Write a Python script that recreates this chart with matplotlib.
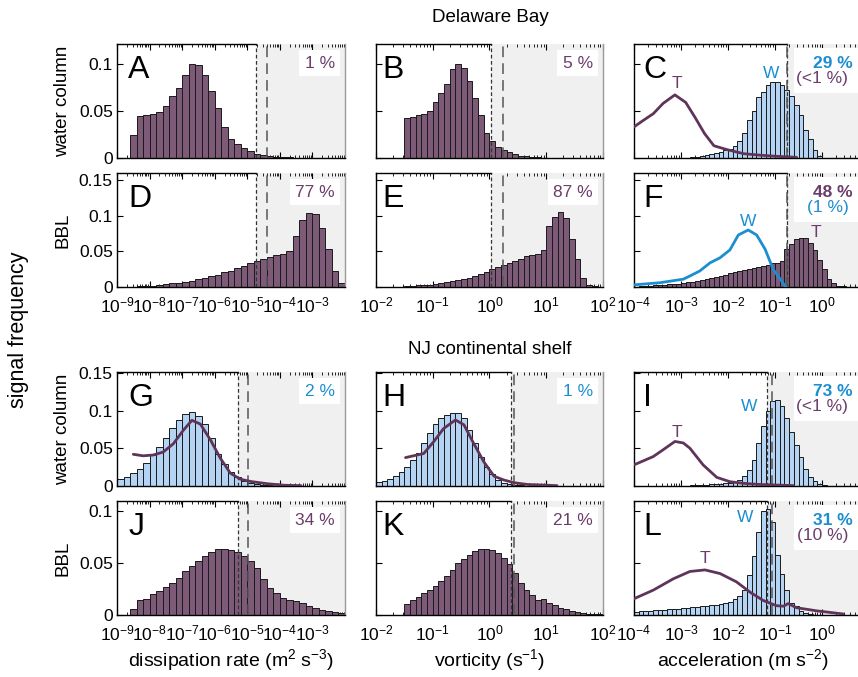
import numpy as np
import matplotlib
matplotlib.use('Agg')
import matplotlib.pyplot as plt
from matplotlib.patches import Rectangle
from matplotlib.ticker import FixedLocator, FuncFormatter, NullFormatter, LogLocator

plt.rcParams['font.family'] = ['Liberation Sans', 'DejaVu Sans']
plt.rcParams['mathtext.fontset'] = 'custom'
plt.rcParams['mathtext.rm'] = 'Liberation Sans'
plt.rcParams['mathtext.it'] = 'Liberation Sans:italic'
plt.rcParams['mathtext.bf'] = 'Liberation Sans:bold'

# ---------------- data (bin heights, log10 bins) ----------------
# column 1: dissipation, 35 bins of 0.2 decade from 1e-9
A_eps = [0, 0, 0.024, 0.045, 0.046, 0.047, 0.049, 0.055, 0.066, 0.074, 0.088, 0.100, 0.099, 0.088,
         0.071, 0.053, 0.033, 0.020, 0.015, 0.011, 0.0075, 0.0046, 0.003, 0.002, 0.0014, 0.001,
         0.0006, 0.0005, 0.0004, 0.0003, 0.0002, 0, 0, 0, 0]
D_eps = [0.0002, 0.0004, 0.0007, 0.001, 0.0015, 0.002, 0.003, 0.004, 0.005, 0.006, 0.0075, 0.009,
         0.011, 0.013, 0.015, 0.017, 0.021, 0.023, 0.026, 0.029, 0.033, 0.037, 0.040, 0.042, 0.045,
         0.046, 0.050, 0.071, 0.094, 0.104, 0.103, 0.083, 0.053, 0.023, 0.006]
G_eps = [0.0088, 0.012, 0.017, 0.0225, 0.031, 0.041, 0.052, 0.064, 0.077, 0.088, 0.095, 0.098, 0.093,
         0.082, 0.063, 0.043, 0.029, 0.019, 0.0115, 0.0066, 0.0035, 0.002, 0.0012, 0.0008, 0.0005,
         0.0003, 0.0002, 0.0001, 0, 0, 0, 0, 0, 0, 0]
G_T_x = [-8.5, -8.2, -7.89, -7.58, -7.27, -6.96, -6.7, -6.44, -6.13, -5.83, -5.52, -5.21, -4.9, -4.38, -3.87, -3.35]
G_T_y = [0.042, 0.040, 0.041, 0.045, 0.056, 0.074, 0.087, 0.082, 0.061, 0.037, 0.017, 0.009, 0.006, 0.003, 0.001, 0.0005]
J_eps = [0, 0, 0.006, 0.014, 0.0157, 0.020, 0.023, 0.027, 0.031, 0.036, 0.042, 0.047, 0.052, 0.0566,
         0.061, 0.064, 0.064, 0.0625, 0.061, 0.057, 0.052, 0.045, 0.035, 0.026, 0.021, 0.0167, 0.014,
         0.0134, 0.0114, 0.0088, 0.0065, 0.0052, 0.0043, 0.003, 0.002]

# column 2: vorticity, 40 bins of 0.1 decade from 1e-2
B_vort = [0, 0, 0, 0, 0, 0.042, 0.044, 0.046, 0.047, 0.050, 0.059, 0.069, 0.079, 0.094, 0.100, 0.096,
          0.082, 0.064, 0.046, 0.027, 0.018, 0.012, 0.009, 0.006, 0.004, 0.0025, 0.0018, 0.0014,
          0.001, 0.0005, 0.0004, 0.0002, 0, 0, 0, 0, 0, 0, 0, 0]
E_vort = [0, 0, 0, 0, 0.0005, 0.0014, 0.0019, 0.0023, 0.0028, 0.0033, 0.0042, 0.005, 0.0066, 0.008,
          0.0094, 0.011, 0.013, 0.0155, 0.018, 0.021, 0.025, 0.028, 0.031, 0.034, 0.037, 0.040, 0.043,
          0.045, 0.047, 0.052, 0.086, 0.098, 0.105, 0.097, 0.068, 0.040, 0.013, 0.003, 0.001, 0]
H_vort = [0.0057, 0.007, 0.0088, 0.013, 0.019, 0.0256, 0.0345, 0.044, 0.0566, 0.070, 0.082, 0.090,
          0.094, 0.097, 0.097, 0.090, 0.074, 0.057, 0.038, 0.0256, 0.0155, 0.008, 0.0044, 0.0027,
          0.0018, 0.001, 0.0006, 0.0004, 0, 0, 0, 0, 0, 0, 0, 0, 0, 0, 0, 0]
H_T_x = [-1.48, -1.34, -1.16, -0.98, -0.81, -0.6, -0.45, -0.28, -0.1, 0.08, 0.25, 0.43, 0.67, 1.19]
H_T_y = [0.0376, 0.040, 0.043, 0.059, 0.076, 0.0875, 0.081, 0.0566, 0.032, 0.013, 0.008, 0.0044, 0.002, 0.0005]
K_vort = [0, 0, 0, 0, 0, 0.011, 0.014, 0.0173, 0.021, 0.024, 0.028, 0.033, 0.038, 0.0435, 0.050, 0.054,
          0.058, 0.0615, 0.064, 0.064, 0.0625, 0.060, 0.055, 0.049, 0.041, 0.031, 0.024, 0.019,
          0.0147, 0.0157, 0.0114, 0.0092, 0.0069, 0.0059, 0.0043, 0.003, 0.002, 0.001, 0.001, 0.001]

# column 3: acceleration, 50 bins of 0.1 decade from 1e-4
C_W = [0] * 11 + [0.0005, 0.001, 0.0015, 0.002, 0.003, 0.004, 0.005, 0.006, 0.008, 0.010, 0.013,
                  0.018, 0.027, 0.040, 0.050, 0.065, 0.070, 0.077, 0.081, 0.081, 0.078, 0.072, 0.066,
                  0.056, 0.046, 0.030, 0.020, 0.008, 0.002] + [0] * 10
C_T_x = [-4.0, -3.8, -3.59, -3.38, -3.13, -2.9, -2.7, -2.5, -2.3, -2.03, -1.67, -1.32, -0.97, -0.54]
C_T_y = [0.033, 0.040, 0.047, 0.058, 0.067, 0.059, 0.043, 0.026, 0.013, 0.009, 0.0046, 0.003, 0.0018, 0.0007]
F_T = [0.0005, 0.001, 0.0014, 0.0019, 0.0023, 0.0028, 0.0033, 0.0038, 0.0042, 0.0047, 0.0056, 0.0066,
       0.0075, 0.0084, 0.0098, 0.011, 0.0127, 0.014, 0.0155, 0.017, 0.019, 0.021, 0.022, 0.024, 0.025,
       0.027, 0.028, 0.030, 0.031, 0.033, 0.034, 0.036, 0.053, 0.061, 0.068, 0.069, 0.069, 0.062,
       0.052, 0.038, 0.025, 0.011, 0.005, 0.002, 0.001, 0, 0, 0, 0, 0]
F_W_x = [-4.0, -3.45, -2.95, -2.81, -2.6, -2.38, -2.17, -1.96, -1.78, -1.57, -1.39, -1.21, -1.04, -0.89, -0.77]
F_W_y = [0.003, 0.006, 0.011, 0.0155, 0.0225, 0.034, 0.041, 0.052, 0.073, 0.080, 0.073, 0.053, 0.025, 0.011, 0.0]
I_W = [0] * 11 + [0.0005, 0.0008, 0.001, 0.0013, 0.0016, 0.002, 0.0025, 0.003, 0.0035, 0.004, 0.005,
                  0.008, 0.013, 0.021, 0.035, 0.057, 0.079, 0.100, 0.112, 0.114, 0.106, 0.090, 0.071,
                  0.054, 0.038, 0.023, 0.012, 0.007, 0.0027, 0.001] + [0] * 9
I_T_x = [-4.0, -3.59, -3.38, -3.13, -2.95, -2.81, -2.53, -2.24, -1.96, -1.67, -1.32, -0.61]
I_T_y = [0.028, 0.039, 0.048, 0.059, 0.057, 0.050, 0.028, 0.0115, 0.0057, 0.0035, 0.002, 0.0005]
L_W = [0.0026, 0.0036, 0.004, 0.004, 0.0045, 0.005, 0.005, 0.0055, 0.006, 0.006, 0.0065, 0.007, 0.0075,
       0.008, 0.0085, 0.009, 0.0095, 0.010, 0.011, 0.012, 0.013, 0.015, 0.018, 0.024, 0.039, 0.057,
       0.080, 0.100, 0.102, 0.090, 0.058, 0.040, 0.024, 0.012, 0.009, 0.004, 0.002, 0.001] + [0] * 12
L_T_x = [-4.0, -3.59, -3.16, -2.81, -2.49, -2.17, -1.82, -1.53, -1.25, -0.97, -0.82, -0.72, -0.54, -0.11, 0.45]
L_T_y = [0.0157, 0.024, 0.035, 0.042, 0.0435, 0.040, 0.032, 0.022, 0.014, 0.009, 0.0085, 0.011, 0.007, 0.004, 0.001]

# thresholds (log10): short dashed, long dashed
thr = {'A': (-4.73, -4.40), 'B': (0.02, 0.24), 'C': (-0.74, -0.74),
       'D': (-4.73, -4.40), 'E': (0.02, 0.24), 'F': (-0.74, -0.74),
       'G': (-5.29, -4.98), 'H': (0.38, 0.43), 'I': (-1.17, -1.06),
       'J': (-5.29, -4.98), 'K': (0.38, 0.43), 'L': (-1.17, -1.06)}

# ---------------- styling ----------------
purple = '#7d5a78'
ptext = '#6a3d6a'
tline = '#5e3559'
blue = '#1b8ed1'
lblue = '#b5d3f2'
gray = '#f0f0f0'

W_PX, H_PX = 858, 677
fig = plt.figure(figsize=(W_PX / 100, H_PX / 100), dpi=100)

col_left = [117, 376, 634]
col_width = [228, 227, 235]
col_range = [(-9, -2), (-2, 2), (-4, 1)]
col_nbins = [35, 40, 50]
col_labeled = [range(-9, -2), range(-2, 3), range(-4, 1)]
row_top = [44, 173, 372, 501]
row_h = [114, 114, 114, 114]
row_ylim = [0.121, 0.16, 0.151, 0.11]
row_yticks = [[0, 0.05, 0.1], [0, 0.05, 0.1, 0.15], [0, 0.05, 0.1, 0.15], [0, 0.05, 0.1]]


def make_ax(r, c):
    l, w = col_left[c], col_width[c]
    t, h = row_top[r], row_h[r]
    ax = fig.add_axes([l / W_PX, 1 - (t + h) / H_PX, w / W_PX, h / H_PX])
    lo, hi = col_range[c]
    ax.set_xscale('log')
    ax.set_xlim(10.0 ** lo, 10.0 ** hi)
    ax.set_ylim(0, row_ylim[r])
    ax.xaxis.set_major_locator(FixedLocator([10.0 ** k for k in col_labeled[c]]))
    ax.xaxis.set_minor_locator(LogLocator(base=10, subs=np.arange(2, 10), numticks=20))
    ax.xaxis.set_minor_formatter(NullFormatter())
    ax.yaxis.set_major_locator(FixedLocator(row_yticks[r]))
    if c == 0:
        ax.yaxis.set_major_formatter(FuncFormatter(lambda v, p: '0' if v == 0 else '%g' % v))
    else:
        ax.yaxis.set_major_formatter(NullFormatter())
    if r in (0, 2):
        ax.xaxis.set_major_formatter(NullFormatter())
    ax.tick_params(which='both', direction='in', top=True, right=False, labelsize=12.5)
    ax.tick_params(axis='x', pad=6)
    ax.tick_params(axis='y', pad=3)
    ax.tick_params(which='major', length=4, width=0.8)
    ax.tick_params(which='minor', length=2, width=0.6)
    for s in ax.spines.values():
        s.set_linewidth(1.0)
    ax.spines['right'].set_color('#999999')
    return ax


def draw(ax, c, hist, hcol, letter, line=None, lcol=None):
    lo, hi = col_range[c]
    edges = np.linspace(lo, hi, col_nbins[c] + 1)
    ts, tl = thr[letter]
    ax.axvspan(10.0 ** ts, 10.0 ** hi, color=gray, zorder=0, lw=0)
    ax.spines['top'].set_bounds(10.0 ** lo, 10.0 ** ts)
    ax.bar(10.0 ** edges[:-1], hist, width=10.0 ** edges[1:] - 10.0 ** edges[:-1], align='edge',
           color=hcol, edgecolor='#1a1a1a', linewidth=0.7, zorder=2)
    ax.axvline(10.0 ** ts, color='#333333', lw=0.9, ls=(0, (3, 2)), zorder=3)
    ax.axvline(10.0 ** tl, color='#555555', lw=1.1, ls=(0, (7, 4)), zorder=3)
    if line is not None:
        ax.plot(10.0 ** np.array(line[0]), line[1], color=lcol, lw=2, zorder=4, solid_capstyle='round')
    lx = [0.05, 0.03, 0.04][c]
    ax.text(lx, 0.7, letter, transform=ax.transAxes, fontsize=23, va='baseline', ha='left', zorder=6)


def pct(ax, s, color, bold=False):
    ax.text(0.955, 0.79, s, transform=ax.transAxes, ha='right', va='baseline', fontsize=12.5,
            color=color, fontweight='bold' if bold else 'normal', zorder=6,
            bbox=dict(fc='white', ec='none', pad=4))


def pct2(ax, s1, c1, s2, c2, b1):
    ax.add_patch(Rectangle((0.68, 0.57), 0.32, 0.395, transform=ax.transAxes, fc='white', ec='none', zorder=5))
    ax.text(0.93, 0.79, s1, transform=ax.transAxes, ha='right', va='baseline', fontsize=12.5,
            color=c1, fontweight='bold' if b1 else 'normal', zorder=6)
    ax.text(0.912, 0.655, s2, transform=ax.transAxes, ha='right', va='baseline', fontsize=12.5,
            color=c2, fontweight='normal', zorder=6)


# row 1: Delaware Bay water column
ax = make_ax(0, 0); draw(ax, 0, A_eps, purple, 'A'); pct(ax, '1 %', ptext)
ax = make_ax(0, 1); draw(ax, 1, B_vort, purple, 'B'); pct(ax, '5 %', ptext)
ax = make_ax(0, 2); draw(ax, 2, C_W, lblue, 'C', (C_T_x, C_T_y), tline)
pct2(ax, '29 %', blue, '(<1 %)', ptext, True)
ax.text(10 ** -3.09, 0.074, 'T', color=ptext, fontsize=12.5, ha='center', va='baseline', zorder=6)
ax.text(10 ** -1.08, 0.085, 'W', color=blue, fontsize=12.5, ha='center', va='baseline', zorder=6)

# row 2: Delaware Bay BBL
ax = make_ax(1, 0); draw(ax, 0, D_eps, purple, 'D'); pct(ax, '77 %', ptext)
ax = make_ax(1, 1); draw(ax, 1, E_vort, purple, 'E'); pct(ax, '87 %', ptext)
ax = make_ax(1, 2); draw(ax, 2, F_T, purple, 'F', (F_W_x, F_W_y), blue)
pct2(ax, '48 %', ptext, '(1 %)', blue, True)
ax.text(10 ** -1.57, 0.086, 'W', color=blue, fontsize=12.5, ha='center', va='baseline', zorder=6)
ax.text(10 ** -0.13, 0.07, 'T', color=ptext, fontsize=12.5, ha='center', va='baseline', zorder=6)

# row 3: NJ shelf water column
ax = make_ax(2, 0); draw(ax, 0, G_eps, lblue, 'G', (G_T_x, G_T_y), tline); pct(ax, '2 %', blue)
ax = make_ax(2, 1); draw(ax, 1, H_vort, lblue, 'H', (H_T_x, H_T_y), tline); pct(ax, '1 %', blue)
ax = make_ax(2, 2); draw(ax, 2, I_W, lblue, 'I', (I_T_x, I_T_y), tline)
pct2(ax, '73 %', blue, '(<1 %)', ptext, True)
ax.text(10 ** -3.09, 0.065, 'T', color=ptext, fontsize=12.5, ha='center', va='baseline', zorder=6)
ax.text(10 ** -1.55, 0.1, 'W', color=blue, fontsize=12.5, ha='center', va='baseline', zorder=6)

# row 4: NJ shelf BBL
ax = make_ax(3, 0); draw(ax, 0, J_eps, purple, 'J'); pct(ax, '34 %', ptext)
ax = make_ax(3, 1); draw(ax, 1, K_vort, purple, 'K'); pct(ax, '21 %', ptext)
ax = make_ax(3, 2); draw(ax, 2, L_W, lblue, 'L', (L_T_x, L_T_y), tline)
pct2(ax, '31 %', blue, '(10 %)', ptext, True)
ax.text(10 ** -2.49, 0.05, 'T', color=ptext, fontsize=12.5, ha='center', va='baseline', zorder=6)
ax.text(10 ** -1.64, 0.09, 'W', color=blue, fontsize=12.5, ha='center', va='baseline', zorder=6)


def ftext(x, y, s, **kw):
    fig.text(x / W_PX, 1 - y / H_PX, s, **kw)


ftext(490, 18, 'Delaware Bay', ha='center', va='center', fontsize=13.5)
ftext(490, 350, 'NJ continental shelf', ha='center', va='center', fontsize=13.5)
ftext(63, 101, 'water column', ha='center', va='center', rotation=90, fontsize=13.5)
ftext(63, 230, 'BBL', ha='center', va='center', rotation=90, fontsize=13.5)
ftext(63, 429, 'water column', ha='center', va='center', rotation=90, fontsize=13.5)
ftext(63, 558, 'BBL', ha='center', va='center', rotation=90, fontsize=13.5)
ftext(19, 330, 'signal frequency', ha='center', va='center', rotation=90, fontsize=15.5)
ftext(231, 660, 'dissipation rate (m$^2$ s$^{-3}$)', ha='center', va='center', fontsize=14)
ftext(490, 660, 'vorticity (s$^{-1}$)', ha='center', va='center', fontsize=14)
ftext(743, 660, 'acceleration (m s$^{-2}$)', ha='center', va='center', fontsize=14)

fig.savefig('out.png', dpi=100)
